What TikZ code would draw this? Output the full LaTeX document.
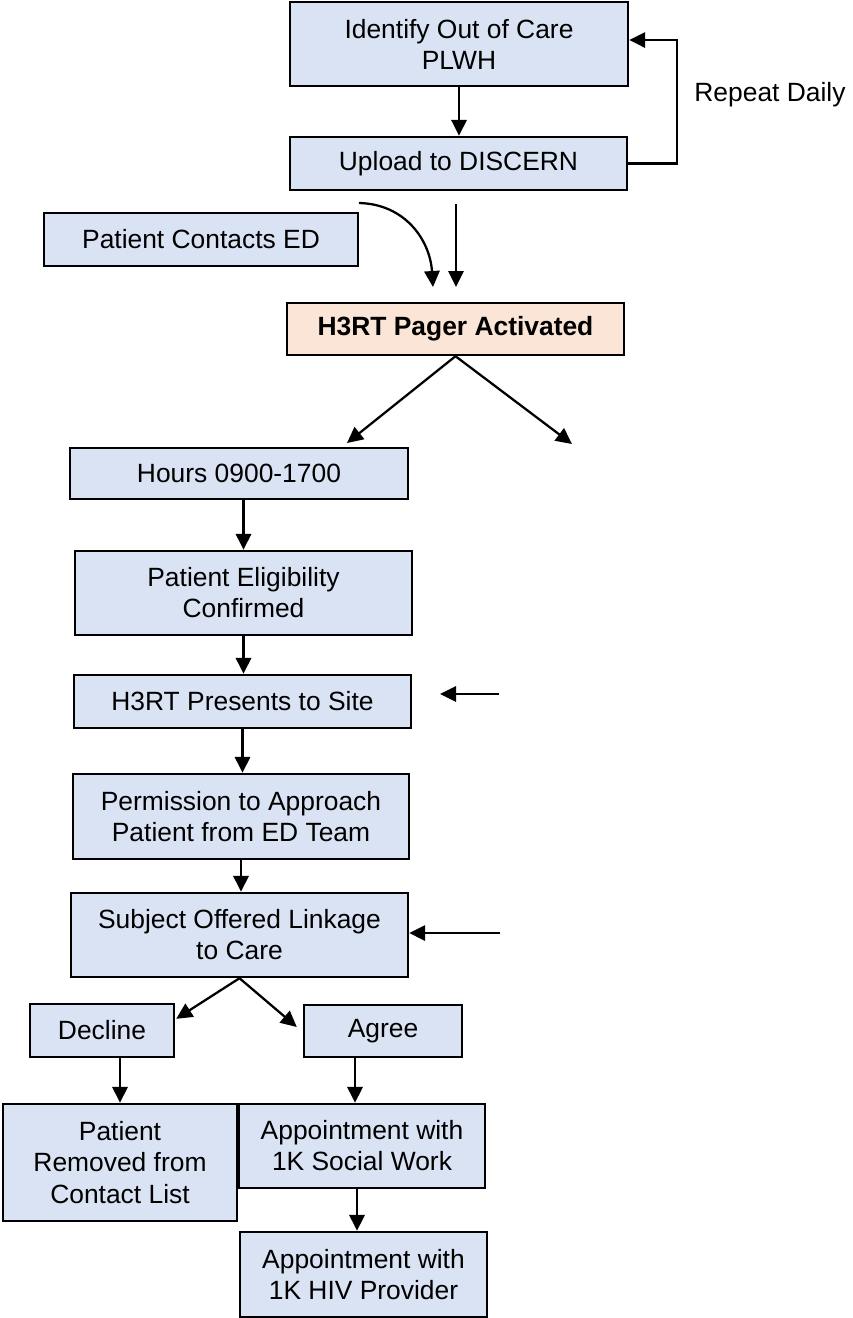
\documentclass[tikz,border=0pt]{standalone}
\usepackage{fontspec}
\setmainfont{Liberation Sans}
\usetikzlibrary{arrows.meta,calc}
\definecolor{boxblue}{HTML}{DAE3F3}
\definecolor{boxpeach}{HTML}{FBE5D6}
\begin{document}
\begin{tikzpicture}[x=0.75pt,y=-0.75pt,
  box/.style={draw=black, line width=1.8pt, fill=boxblue, inner sep=0pt, align=center,
    font=\fontsize{19.8}{23.3}\selectfont},
  peachbox/.style={box, fill=boxpeach, font=\fontsize{19.8}{23.3}\selectfont\bfseries},
  arr/.style={line width=1.7pt, -{Triangle[length=12pt,width=11.5pt]}},
  lbl/.style={inner sep=0pt, font=\fontsize{19.8}{23.3}\selectfont}]
\useasboundingbox (0,0) rectangle (853,1318);
\fill[white] (0,0) rectangle (853,1318);

% nodes
\node[box, minimum width=253.5pt, minimum height=63pt] (id) at (459,44) {Identify Out of Care\\PLWH};
\node[box, minimum width=252.75pt, minimum height=39.75pt] (up) at (458.5,163.5) {Upload to DISCERN};
\node[lbl] (rep) at (770,95) {Repeat Daily};
\node[box, minimum width=235.5pt, minimum height=39.75pt] (pce) at (201,239.5) {Patient Contacts ED};
\node[peachbox, minimum width=252.75pt, minimum height=39pt] (pager) at (455.5,329) {H3RT Pager Activated};
\node[box, minimum width=253.5pt, minimum height=38.25pt] (hours) at (239,473.5) {Hours 0900-1700};
\node[box, minimum width=252.75pt, minimum height=63pt] (elig) at (243.5,593) {Patient Eligibility\\Confirmed};
\node[box, minimum width=252.75pt, minimum height=39.75pt] (pres) at (242.5,701.5) {H3RT Presents to Site};
\node[box, minimum width=252pt, minimum height=63.75pt] (perm) at (241,816.5) {Permission to Approach\\Patient from ED Team};
\node[box, minimum width=252.75pt, minimum height=63pt] (subj) at (239.5,935) {Subject Offered Linkage\\to Care};
\node[box, minimum width=108pt, minimum height=39.75pt] (decl) at (102,1030.5) {Decline};
\node[box, minimum width=118.5pt, minimum height=39pt] (agree) at (383,1031) {Agree};
\node[box, minimum width=175.5pt, minimum height=87.75pt] (rem) at (120,1162.5) {Patient\\Removed from\\Contact List};
\node[box, minimum width=184.5pt, minimum height=63pt] (sw) at (362,1146) {Appointment with\\1K Social Work};
\node[box, minimum width=185.25pt, minimum height=63.75pt] (hiv) at (363.5,1274.5) {Appointment with\\1K HIV Provider};

% free-end coordinates
\coordinate (cs) at (359,203);
\coordinate (ce) at (433,287);
\coordinate (ss) at (456,204);
\coordinate (se) at (456,287);
\coordinate (dl) at (347,443);
\coordinate (dr) at (572,444);
\coordinate (pa) at (499,694);
\coordinate (pt) at (440,694);
\coordinate (sa) at (500,933);

% connectors
\draw[arr] (id.south) -- (id.south |- up.north);
\draw[arr] (up.east) -- ++(49,0) |- ($(id.east)+(0,-4)$);
\draw[arr] (cs) .. controls (405,204) and (430,240) .. (ce);
\draw[arr] (ss) -- (se);
\draw[arr] (pager.south) -- (dl);
\draw[arr] (pager.south) -- (dr);
\draw[arr] (hours.south -| elig.north) -- (elig.north);
\draw[arr] (elig.south) -- (elig.south |- pres.north);
\draw[arr] (pa) -- (pt);
\draw[arr] (pres.south) -- (pres.south |- perm.north);
\draw[arr] (perm.south) -- (perm.south |- subj.north);
\draw[arr] (sa) -- (subj.east |- sa);
\draw[arr] (subj.south) -- ($(decl.north east)+(1,16)$);
\draw[arr] (subj.south) -- ($(agree.west)+(-6,-4)$);
\draw[arr] (rem.north |- decl.south) -- (rem.north);
\draw[arr] ($(agree.south -| sw.north)+(-7,0)$) -- ($(sw.north)+(-7,0)$);
\draw[arr] ($(sw.south)+(-5,0)$) coordinate (t) -- (t |- hiv.north);
\end{tikzpicture}
\end{document}
